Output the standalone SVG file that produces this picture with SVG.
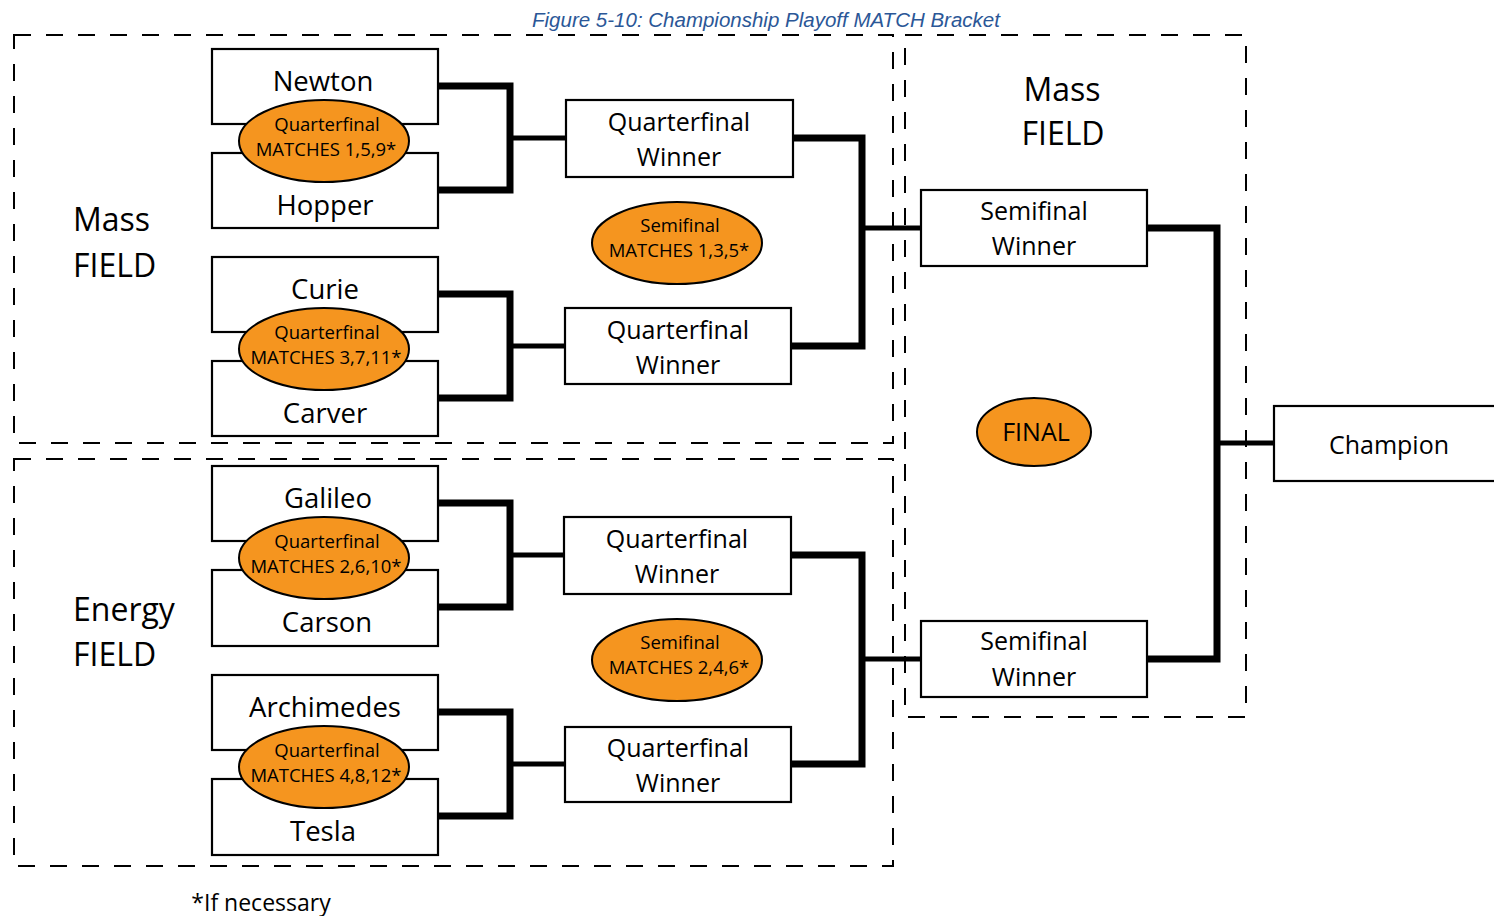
<svg xmlns="http://www.w3.org/2000/svg" width="1494" height="916" viewBox="0 0 1494 916">
<style>
.bg{fill:#fff}
.zone{fill:none;stroke:#000;stroke-width:2;stroke-dasharray:17 15}
.box{fill:#fff;stroke:#000;stroke-width:2.2}
.ell{fill:#F5951F;stroke:#000;stroke-width:2}
.t{font-family:"Open Sans","Noto Sans","DejaVu Sans",sans-serif;fill:#000;text-anchor:middle}
.team{font-size:27.5px}
.bt{font-size:25px}
.et{font-size:18.5px}
.field{font-family:"Open Sans","Noto Sans","DejaVu Sans",sans-serif;font-size:32px;fill:#000}
.title{font-family:"Liberation Sans",Arial,sans-serif;font-style:italic;font-size:20.5px;fill:#2B5797;text-anchor:middle}
.c{fill:none;stroke:#000;stroke-width:7;stroke-linejoin:miter}
.cm{fill:none;stroke:#000;stroke-width:5}
</style>
<rect class="bg" x="0" y="0" width="1494" height="916"/>
<text class="title" x="766" y="27">Figure 5-10: Championship Playoff MATCH Bracket</text>

<g id="zones">
<rect class="zone" x="14" y="35" width="879" height="408"/>
<rect class="zone" x="14" y="459" width="879" height="407"/>
<rect class="zone" x="905" y="35" width="341" height="682"/>
</g>

<g id="labels">
<text class="field" x="73" y="231">Mass</text>
<text class="field" x="73" y="277">FIELD</text>
<text class="field" x="73" y="621">Energy</text>
<text class="field" x="73" y="666">FIELD</text>
<text class="field" x="1062" y="101" text-anchor="middle">Mass</text>
<text class="field" x="1063" y="145" text-anchor="middle">FIELD</text>
<text class="t" x="261" y="911" style="font-size:23px">*If necessary</text>
</g>

<g id="connectors">
<path class="c" d="M439,86 H510 V190 H439"/>
<path class="cm" d="M510,138 H566"/>
<path class="c" d="M439,294 H510 V398 H439"/>
<path class="cm" d="M510,346 H565"/>
<path class="c" d="M439,503 H510 V607 H439"/>
<path class="cm" d="M510,555 H564"/>
<path class="c" d="M439,712 H510 V816 H439"/>
<path class="cm" d="M510,764 H565"/>
<path class="c" d="M793,138 H862 V346 H791"/>
<path class="cm" d="M862,228 H921"/>
<path class="c" d="M791,555 H862 V764 H791"/>
<path class="cm" d="M862,659 H921"/>
<path class="c" d="M1147,228 H1217 V659 H1147"/>
<path class="cm" d="M1217,443 H1274"/>
</g>

<g id="newton"><rect class="box" x="212" y="49" width="226" height="75"/><text class="t team" x="323" y="91">Newton</text></g>
<g id="hopper"><rect class="box" x="212" y="153" width="226" height="75"/><text class="t team" x="325" y="215">Hopper</text></g>
<g id="qf1"><ellipse class="ell" cx="324" cy="141" rx="85" ry="41"/><text class="t et" x="327" y="131">Quarterfinal</text><text class="t et" x="326" y="156">MATCHES 1,5,9*</text></g>

<g id="curie"><rect class="box" x="212" y="257" width="226" height="75"/><text class="t team" x="325" y="299">Curie</text></g>
<g id="carver"><rect class="box" x="212" y="361" width="226" height="75"/><text class="t team" x="325" y="423">Carver</text></g>
<g id="qf2"><ellipse class="ell" cx="324" cy="349" rx="85" ry="41"/><text class="t et" x="327" y="339">Quarterfinal</text><text class="t et" x="326" y="364">MATCHES 3,7,11*</text></g>

<g id="galileo"><rect class="box" x="212" y="466" width="226" height="75"/><text class="t team" x="328" y="508">Galileo</text></g>
<g id="carson"><rect class="box" x="212" y="570" width="226" height="76"/><text class="t team" x="327" y="632">Carson</text></g>
<g id="qf3"><ellipse class="ell" cx="324" cy="558" rx="85" ry="41"/><text class="t et" x="327" y="548">Quarterfinal</text><text class="t et" x="326" y="573">MATCHES 2,6,10*</text></g>

<g id="archimedes"><rect class="box" x="212" y="675" width="226" height="75"/><text class="t team" x="325" y="717">Archimedes</text></g>
<g id="tesla"><rect class="box" x="212" y="779" width="226" height="76"/><text class="t team" x="323" y="841">Tesla</text></g>
<g id="qf4"><ellipse class="ell" cx="324" cy="767" rx="85" ry="41"/><text class="t et" x="327" y="757">Quarterfinal</text><text class="t et" x="326" y="782">MATCHES 4,8,12*</text></g>

<g id="qw1"><rect class="box" x="566" y="100" width="227" height="77"/><text class="t bt" x="679" y="131">Quarterfinal</text><text class="t bt" x="679" y="166">Winner</text></g>
<g id="qw2"><rect class="box" x="565" y="308" width="226" height="76"/><text class="t bt" x="678" y="339">Quarterfinal</text><text class="t bt" x="678" y="374">Winner</text></g>
<g id="qw3"><rect class="box" x="564" y="517" width="227" height="77"/><text class="t bt" x="677" y="548">Quarterfinal</text><text class="t bt" x="677" y="583">Winner</text></g>
<g id="qw4"><rect class="box" x="565" y="727" width="226" height="75"/><text class="t bt" x="678" y="757">Quarterfinal</text><text class="t bt" x="678" y="792">Winner</text></g>

<g id="sf1"><ellipse class="ell" cx="677" cy="243" rx="85" ry="41"/><text class="t et" x="680" y="232">Semifinal</text><text class="t et" x="679" y="257">MATCHES 1,3,5*</text></g>
<g id="sf2"><ellipse class="ell" cx="677" cy="660" rx="85" ry="41"/><text class="t et" x="680" y="649">Semifinal</text><text class="t et" x="679" y="674">MATCHES 2,4,6*</text></g>

<g id="sw1"><rect class="box" x="921" y="190" width="226" height="76"/><text class="t bt" x="1034" y="220">Semifinal</text><text class="t bt" x="1034" y="255">Winner</text></g>
<g id="sw2"><rect class="box" x="921" y="621" width="226" height="76"/><text class="t bt" x="1034" y="650">Semifinal</text><text class="t bt" x="1034" y="686">Winner</text></g>

<g id="final"><ellipse class="ell" cx="1034" cy="432" rx="57" ry="34"/><text class="t bt" x="1036" y="441">FINAL</text></g>

<g id="champion"><rect class="box" x="1274" y="406" width="230" height="75"/><text class="t bt" x="1389" y="454">Champion</text></g>
</svg>
